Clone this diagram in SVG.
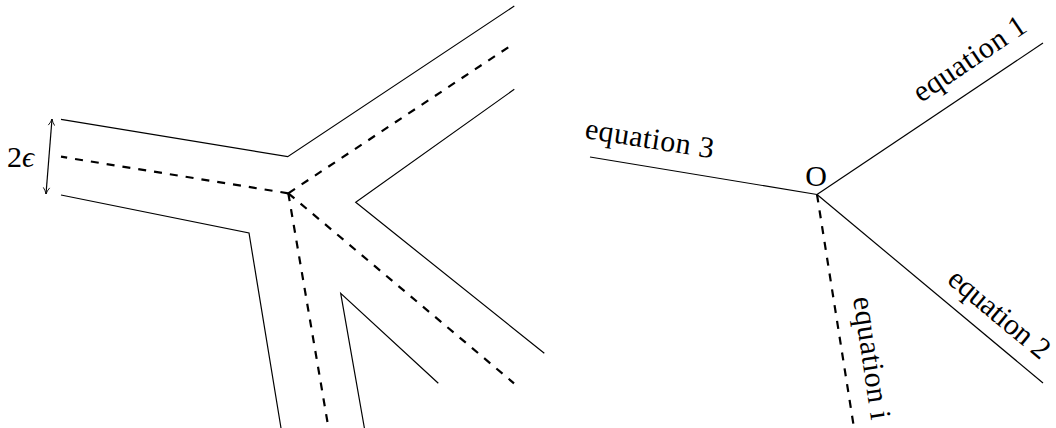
<svg xmlns="http://www.w3.org/2000/svg" width="1056" height="428" viewBox="0 0 1056 428">
<defs>
<style>
.solid{fill:none;stroke:#000;stroke-width:1.2;stroke-linejoin:miter}
.dash{fill:none;stroke:#000;stroke-width:2.2;stroke-dasharray:8 8}
.lbl{font-family:"Liberation Serif","DejaVu Serif",serif;font-size:30px;fill:#000}
.it{font-style:italic}
</style>
<marker id="ah" viewBox="0 0 10 10" refX="9" refY="5" markerWidth="8" markerHeight="8" orient="auto-start-reverse" markerUnits="userSpaceOnUse">
<path d="M1,1 Q5,4 9,5 Q5,6 1,9" fill="none" stroke="#000" stroke-width="1.1"/>
</marker>
</defs>
<rect width="1056" height="428" fill="#fff"/>
<g id="left-figure">
<g id="boundaries">
<polyline class="solid" points="61,119.3 287.7,156.7 514.3,6"/>
<polyline class="solid" points="61,195 249,233 281,428"/>
<polyline class="solid" points="514.3,89.3 355.7,202.3 544.3,353.3"/>
<polyline class="solid" points="438.3,383.3 340.7,293.3 364.4,428"/>
</g>
<g id="connectors">
<line class="dash" x1="288.3" y1="193.3" x2="61" y2="156.7"/>
<line class="dash" x1="288.3" y1="193.3" x2="514.3" y2="43.3"/>
<line class="dash" x1="288.3" y1="193.3" x2="514" y2="383.3"/>
<line class="dash" x1="288.3" y1="193.3" x2="328.5" y2="428"/>
<line class="solid" x1="46" y1="194" x2="52" y2="119" marker-start="url(#ah)" marker-end="url(#ah)"/>
</g>
<g id="label-eps"><text class="lbl" x="7" y="167">2<tspan class="it">ϵ</tspan></text></g>
</g>
<g id="right-figure">
<g id="right-lines">
<line class="solid" x1="590" y1="157" x2="817" y2="194.5"/>
<line class="solid" x1="817" y1="194.5" x2="1043" y2="43"/>
<line class="solid" x1="817" y1="194.5" x2="1043" y2="383"/>
<line class="dash" x1="817" y1="194.5" x2="854" y2="428"/>
</g>
<g id="node-O"><text class="lbl" x="816" y="186" text-anchor="middle">O</text></g>
<g id="label-eq3"><text class="lbl" transform="translate(584,138) rotate(9)" textLength="130" lengthAdjust="spacing">equation 3</text></g>
<g id="label-eq1"><text class="lbl" transform="translate(921,103) rotate(-34)" textLength="130" lengthAdjust="spacing">equation 1</text></g>
<g id="label-eq2"><text class="lbl" transform="translate(946,282) rotate(39.7)" textLength="123" lengthAdjust="spacing">equation 2</text></g>
<g id="label-eqi"><text class="lbl" transform="translate(853,298) rotate(81.5)" textLength="124" lengthAdjust="spacing">equation i</text></g>
</g>
</svg>
